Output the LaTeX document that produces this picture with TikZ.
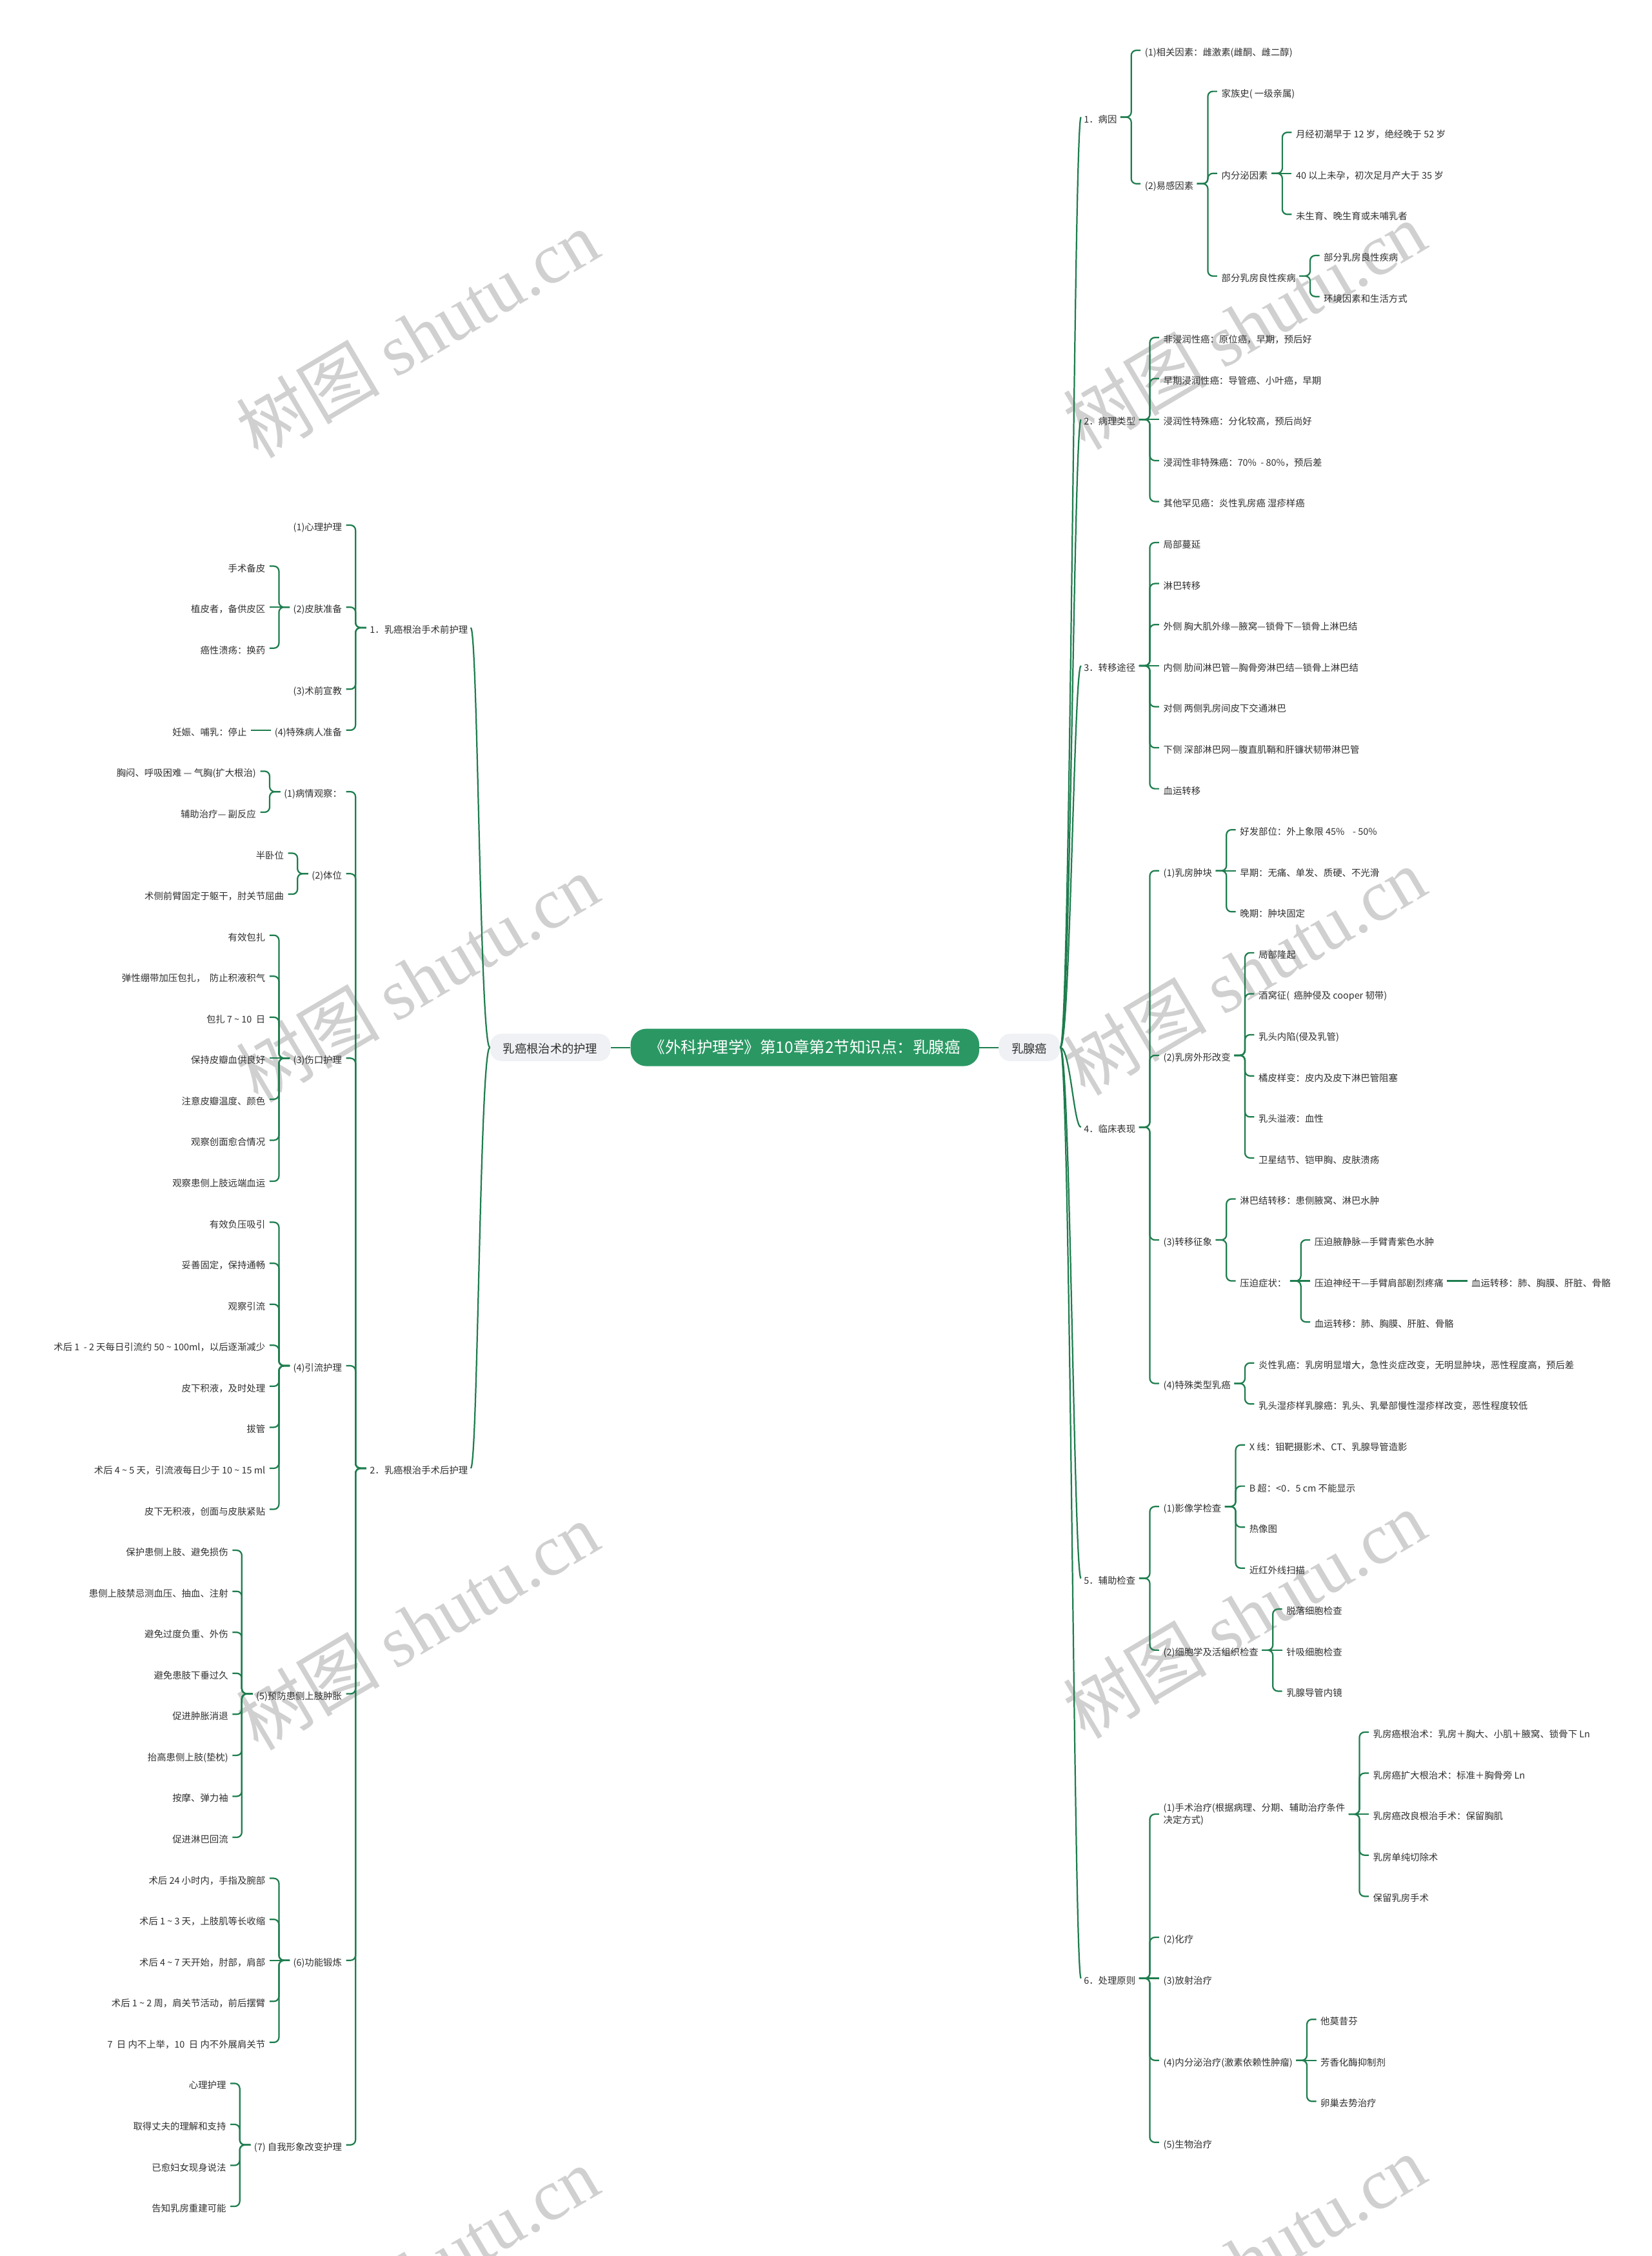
\documentclass[tikz,border=0pt]{standalone}
\usepackage{fontspec}
\setmainfont{Noto Sans CJK SC}
\newfontfamily\wmlatin{Liberation Serif}
\usetikzlibrary{calc}
\definecolor{lnc}{RGB}{30,125,78}
\definecolor{ctr}{RGB}{43,152,100}
\definecolor{gnode}{RGB}{239,241,244}
\definecolor{txt}{RGB}{48,48,48}
\definecolor{wm}{RGB}{208,208,208}
\newcommand{\tld}{\textasciitilde}
\tikzset{
 lf/.style={inner xsep=0.3pt, inner ysep=1pt, text height=0.76em, text depth=0pt, font=\fontsize{6.45}{7.8}\selectfont, text=txt},
 lftwo/.style={inner xsep=0.3pt, inner ysep=1pt, align=left, font=\fontsize{6.45}{8.5}\selectfont, text=txt},
 cn/.style={draw=lnc, line width=1pt, rounded corners=3.5pt},
 cv/.style={draw=lnc, line width=1pt},
 gn/.style={fill=gnode, rounded corners=8pt, inner xsep=9pt, inner ysep=2pt, minimum height=19pt, text height=0.76em, text depth=0pt, font=\fontsize{8.2}{9}\selectfont, text=txt},
 ctrnode/.style={fill=ctr, rounded corners=11pt, inner xsep=13pt, inner ysep=2pt, minimum height=26pt, text height=0.76em, text depth=0pt, font=\fontsize{11}{12}\selectfont, text=white},
 wmk/.style={text=wm, font=\fontsize{50}{52}\selectfont, inner sep=0pt},
}
% right side children
\newcommand{\rc}[4]{\path (#2.east) ++(18.5,0) coordinate (tx);
 \node[lf,anchor=west] (#1) at (tx |- 0,#3) {#4};
 \draw[cn] ([xshift=2pt]#2.east) -- ++(7.5pt,0pt) |- ([xshift=-2.5pt]#1.west);}
\newcommand{\rs}[4]{\path (#2.east) ++(18.5,0) coordinate (tx);
 \node[lf,anchor=west] (#1) at (tx |- 0,#3) {#4};
 \draw[cn] ([xshift=2pt]#2.east) -- ([xshift=-2.5pt]#1.west);}
% left side children
\newcommand{\lc}[4]{\path (#2.west) ++(-18.5,0) coordinate (tx);
 \node[lf,anchor=east] (#1) at (tx |- 0,#3) {#4};
 \draw[cn] ([xshift=-2pt]#2.west) -- ++(-7.5pt,0pt) |- ([xshift=2.5pt]#1.east);}
\newcommand{\ls}[4]{\path (#2.west) ++(-18.5,0) coordinate (tx);
 \node[lf,anchor=east] (#1) at (tx |- 0,#3) {#4};
 \draw[cn] ([xshift=-2pt]#2.west) -- ([xshift=2.5pt]#1.east);}
\begin{document}
\begin{tikzpicture}[x=1pt,y=-1pt]
\fill[white] (0,0) rectangle (1148,1568);
\useasboundingbox (0,0) rectangle (1148,1568);
% watermark
\foreach \wx/\wy in {290/232, 865/226, 290/680, 865/675, 290/1130, 865/1122, 290/1578, 865/1570}
  \node[wmk, rotate=30.6] at (\wx,\wy) {树图 {\wmlatin shutu.cn}};

% central
\node[ctrnode] (ct) at (559.5,728) {《外科护理学》第10章第2节知识点：乳腺癌};
\node[gn] (rt) at (715.5,728) {乳腺癌};
\node[gn] (lt) at (382.5,728) {乳癌根治术的护理};
\draw[cv] (ct.east) -- (rt.west);
\draw[cv] (ct.west) -- (lt.east);

% ===== right side =====
\node[lf,anchor=west] (r1) at (752.9,81.4) {1．病因};
\node[lf,anchor=west] (r2) at (752.9,291.6) {2．病理类型};
\node[lf,anchor=west] (r3) at (752.9,462.7) {3．转移途径};
\node[lf,anchor=west] (r4) at (752.9,783.4) {4．临床表现};
\node[lf,anchor=west] (r5) at (752.9,1097.0) {5．辅助检查};
\node[lf,anchor=west] (r6) at (752.9,1375.0) {6．处理原则};
\foreach \n in {r1,r2,r3,r4,r5,r6}
  \draw[cv] (rt.east) .. controls +(7,0) and +(-5,0) .. ([xshift=-1.5pt]\n.west);

\rc{r11}{r1}{35.0}{(1)相关因素：雌激素(雌酮、雌二醇)}
\rc{r12}{r1}{127.7}{(2)易感因素}
\rc{r121}{r12}{63.5}{家族史( 一级亲属)}
\rc{r122}{r12}{120.5}{内分泌因素}
\rc{r1221}{r122}{92.0}{月经初潮早于 12 岁，绝经晚于 52 岁}
\rs{r1222}{r122}{120.5}{40 以上未孕，初次足月产大于 35 岁}
\rc{r1223}{r122}{149.0}{未生育、晚生育或未哺乳者}
\rc{r123}{r12}{191.85}{部分乳房良性疾病}
\rc{r1231}{r123}{177.6}{部分乳房良性疾病}
\rc{r1232}{r123}{206.1}{环境因素和生活方式}

\rc{r21}{r2}{234.6}{非浸润性癌：原位癌，早期，预后好}
\rc{r22}{r2}{263.1}{早期浸润性癌：导管癌、小叶癌，早期}
\rs{r23}{r2}{291.6}{浸润性特殊癌：分化较高，预后尚好}
\rc{r24}{r2}{320.1}{浸润性非特殊癌：70\%\ \ - 80\%，预后差}
\rc{r25}{r2}{348.6}{其他罕见癌：炎性乳房癌 湿疹样癌}

\rc{r31}{r3}{377.1}{局部蔓延}
\rc{r32}{r3}{405.6}{淋巴转移}
\rc{r33}{r3}{434.1}{外侧 胸大肌外缘—腋窝—锁骨下—锁骨上淋巴结}
\rs{r34}{r3}{462.7}{内侧 肋间淋巴管—胸骨旁淋巴结—锁骨上淋巴结}
\rc{r35}{r3}{491.2}{对侧 两侧乳房间皮下交通淋巴}
\rc{r36}{r3}{519.7}{下侧 深部淋巴网—腹直肌鞘和肝镰状韧带淋巴管}
\rc{r37}{r3}{548.2}{血运转移}

\rc{r41}{r4}{605.2}{(1)乳房肿块}
\rc{r411}{r41}{576.7}{好发部位：外上象限 45\%\ \ \ \ - 50\%}
\rs{r412}{r41}{605.2}{早期：无痛、单发、质硬、不光滑}
\rc{r413}{r41}{633.7}{晚期：肿块固定}
\rc{r42}{r4}{733.5}{(2)乳房外形改变}
\rc{r421}{r42}{662.2}{局部隆起}
\rc{r422}{r42}{690.7}{酒窝征(\ \ 癌肿侵及 cooper 韧带)}
\rc{r423}{r42}{719.2}{乳头内陷(侵及乳管)}
\rc{r424}{r42}{747.8}{橘皮样变：皮内及皮下淋巴管阻塞}
\rc{r425}{r42}{776.3}{乳头溢液：血性}
\rc{r426}{r42}{804.8}{卫星结节、铠甲胸、皮肤溃疡}
\rc{r43}{r4}{861.8}{(3)转移征象}
\rc{r431}{r43}{833.3}{淋巴结转移：患侧腋窝、淋巴水肿}
\rc{r432}{r43}{890.3}{压迫症状：}
\rc{r4321}{r432}{861.8}{压迫腋静脉—手臂青紫色水肿}
\rs{r4322}{r432}{890.3}{压迫神经干—手臂肩部剧烈疼痛}
\rs{r43221}{r4322}{890.3}{血运转移：肺、胸膜、肝脏、骨骼}
\rc{r4323}{r432}{918.8}{血运转移：肺、胸膜、肝脏、骨骼}
\rc{r44}{r4}{961.55}{(4)特殊类型乳癌}
\rc{r441}{r44}{947.3}{炎性乳癌：乳房明显增大，急性炎症改变，无明显肿块，恶性程度高，预后差}
\rc{r442}{r44}{975.8}{乳头湿疹样乳腺癌：乳头、乳晕部慢性湿疹样改变，恶性程度较低}

\rc{r51}{r5}{1047.1}{(1)影像学检查}
\rc{r511}{r51}{1004.3}{X 线：钼靶摄影术、CT、乳腺导管造影}
\rc{r512}{r51}{1032.9}{B 超：<0．5 cm 不能显示}
\rc{r513}{r51}{1061.4}{热像图}
\rc{r514}{r51}{1089.9}{近红外线扫描}
\rc{r52}{r5}{1146.9}{(2)细胞学及活组织检查}
\rc{r521}{r52}{1118.4}{脱落细胞检查}
\rs{r522}{r52}{1146.9}{针吸细胞检查}
\rc{r523}{r52}{1175.4}{乳腺导管内镜}

\path (r6.east) ++(18.5,0) coordinate (tx);
\node[lftwo,anchor=west] (r61) at (tx |- 0,1260.9) {(1)手术治疗(根据病理、分期、辅助治疗条件\\决定方式)};
\draw[cn] ([xshift=2pt]r6.east) -- ++(7.5pt,0pt) |- ([xshift=-2.5pt]r61.west);
\rc{r611}{r61}{1203.9}{乳房癌根治术：乳房＋胸大、小肌＋腋窝、锁骨下 Ln}
\rc{r612}{r61}{1232.4}{乳房癌扩大根治术：标准＋胸骨旁 Ln}
\rs{r613}{r61}{1260.9}{乳房癌改良根治手术：保留胸肌}
\rc{r614}{r61}{1289.4}{乳房单纯切除术}
\rc{r615}{r61}{1318.0}{保留乳房手术}
\rc{r62}{r6}{1346.5}{(2)化疗}
\rs{r63}{r6}{1375.0}{(3)放射治疗}
\rc{r64}{r6}{1432.0}{(4)内分泌治疗(激素依赖性肿瘤)}
\rc{r641}{r64}{1403.5}{他莫昔芬}
\rs{r642}{r64}{1432.0}{芳香化酶抑制剂}
\rc{r643}{r64}{1460.5}{卵巢去势治疗}
\rc{r65}{r6}{1489.0}{(5)生物治疗}

% ===== left side =====
\node[lf,anchor=east] (l1) at (325.7,436.25) {1．乳癌根治手术前护理};
\node[lf,anchor=east] (l2) at (325.7,1020.5) {2．乳癌根治手术后护理};
\foreach \n in {l1,l2}
  \draw[cv] (lt.west) .. controls +(-7,0) and +(5,0) .. ([xshift=1.5pt]\n.east);

\lc{l11}{l1}{365}{(1)心理护理}
\lc{l12}{l1}{422}{(2)皮肤准备}
\lc{l121}{l12}{393.5}{手术备皮}
\ls{l122}{l12}{422}{植皮者，备供皮区}
\lc{l123}{l12}{450.5}{癌性溃疡：换药}
\lc{l13}{l1}{479}{(3)术前宣教}
\lc{l14}{l1}{507.5}{(4)特殊病人准备}
\ls{l141}{l14}{507.5}{妊娠、哺乳：停止}

\lc{l21}{l2}{550.25}{(1)病情观察：}
\lc{l211}{l21}{536}{胸闷、呼吸困难 — 气胸(扩大根治)}
\lc{l212}{l21}{564.5}{辅助治疗— 副反应}
\lc{l22}{l2}{607.25}{(2)体位}
\lc{l221}{l22}{593}{半卧位}
\lc{l222}{l22}{621.5}{术侧前臂固定于躯干，肘关节屈曲}
\lc{l23}{l2}{735.5}{(3)伤口护理}
\lc{l231}{l23}{650}{有效包扎}
\lc{l232}{l23}{678.5}{弹性绷带加压包扎，\ \ 防止积液积气}
\lc{l233}{l23}{707}{包扎 7 \tld\ 10\ \ 日}
\ls{l234}{l23}{735.5}{保持皮瓣血供良好}
\lc{l235}{l23}{764}{注意皮瓣温度、颜色}
\lc{l236}{l23}{792.5}{观察创面愈合情况}
\lc{l237}{l23}{821}{观察患侧上肢远端血运}
\lc{l24}{l2}{949.25}{(4)引流护理}
\lc{l241}{l24}{849.5}{有效负压吸引}
\lc{l242}{l24}{878}{妥善固定，保持通畅}
\lc{l243}{l24}{906.5}{观察引流}
\lc{l244}{l24}{935}{术后 1\ \ - 2 天每日引流约 50 \tld\ 100ml，以后逐渐减少}
\lc{l245}{l24}{963.5}{皮下积液，及时处理}
\lc{l246}{l24}{992}{拔管}
\lc{l247}{l24}{1020.5}{术后 4 \tld\ 5 天，引流液每日少于 10 \tld\ 15 ml}
\lc{l248}{l24}{1049}{皮下无积液，创面与皮肤紧贴}
\lc{l25}{l2}{1177.25}{(5)预防患侧上肢肿胀}
\lc{l251}{l25}{1077.5}{保护患侧上肢、避免损伤}
\lc{l252}{l25}{1106}{患侧上肢禁忌测血压、抽血、注射}
\lc{l253}{l25}{1134.5}{避免过度负重、外伤\ }
\lc{l254}{l25}{1163}{避免患肢下垂过久}
\lc{l255}{l25}{1191.5}{促进肿胀消退}
\lc{l256}{l25}{1220}{抬高患侧上肢(垫枕)}
\lc{l257}{l25}{1248.5}{按摩、弹力袖}
\lc{l258}{l25}{1277}{促进淋巴回流}
\lc{l26}{l2}{1362.5}{(6)功能锻炼}
\lc{l261}{l26}{1305.5}{术后 24 小时内，手指及腕部}
\lc{l262}{l26}{1334}{术后 1 \tld\ 3 天，上肢肌等长收缩}
\ls{l263}{l26}{1362.5}{术后 4 \tld\ 7 天开始，肘部，肩部}
\lc{l264}{l26}{1391}{术后 1 \tld\ 2 周，肩关节活动，前后摆臂}
\lc{l265}{l26}{1419.5}{7\ \ 日 内不上举，10\ \ 日 内不外展肩关节}
\lc{l27}{l2}{1490.75}{(7) 自我形象改变护理}
\lc{l271}{l27}{1448}{心理护理}
\lc{l272}{l27}{1476.5}{取得丈夫的理解和支持}
\lc{l273}{l27}{1505}{已愈妇女现身说法}
\lc{l274}{l27}{1533.5}{告知乳房重建可能}
\end{tikzpicture}
\end{document}
